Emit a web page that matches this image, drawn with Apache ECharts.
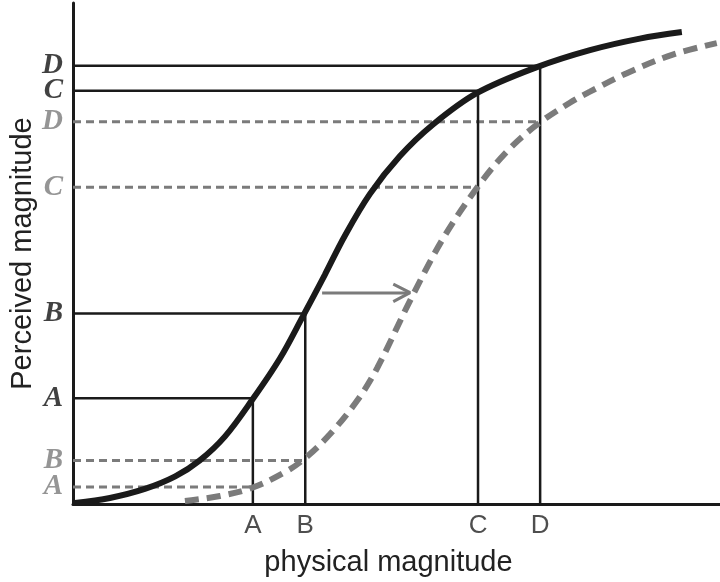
<!DOCTYPE html>
<html>
<head>
<meta charset="utf-8">
<script src="https://cdn.jsdelivr.net/npm/echarts@6/dist/echarts.min.js"></script>
<style>
    html, body { margin: 0; padding: 0; background: #fff; }
    #chart { width: 720px; height: 582px; }
</style>
</head>
<body>
<div id="chart"></div>
<script>
    //刺激名稱
    var tickNames = ['A', 'B', 'C', 'D'];
    //物理量位置
    var physicalX = [27.8, 35.9, 62.6, 72.2];
    //原曲線上的知覺量
    var perceivedSolid = [21.1, 38.0, 82.5, 87.5];
    //右移後曲線上的知覺量
    var perceivedDashed = [3.4, 8.7, 63.2, 76.3];

    //原曲線 (x, y)
    var solidCurve = [
        [0.3, 0.2], [5.7, 1.2], [11.1, 3.0], [15.8, 5.5], [19.6, 8.7],
        [23.5, 13.5], [27.7, 20.8], [32.0, 29.1], [35.5, 37.4], [38.9, 45.7],
        [42.0, 53.5], [45.9, 61.9], [50.5, 69.4], [55.6, 75.7], [62.4, 82.0],
        [71.7, 87.2], [79.9, 90.6], [87.6, 92.9], [94.1, 94.2]
    ];
    //右移後曲線 (x, y)
    var dashedCurve = [
        [17.3, 0.6], [22.7, 1.6], [27.8, 3.3], [33.1, 6.6], [36.2, 9.5],
        [39.7, 13.9], [43.9, 20.6], [47.0, 27.1], [52.1, 40.6], [57.2, 53.0],
        [62.6, 63.4], [67.1, 70.4], [71.7, 75.7], [76.8, 80.1], [79.9, 82.3],
        [85.6, 86.0], [92.7, 89.7], [99.5, 92.0]
    ];
    //箭頭
    var arrowShaft = [[38.5, 42.1], [52.0, 42.1]];
    var arrowHead = [[49.5, 43.9], [52.1, 42.2], [49.5, 40.4]];

    var black = '#1a1a1a';
    var gray = '#7b7b7b';
    var serifFont = '"Liberation Serif", "Times New Roman", serif';

    var series = [];

    //虛線參考線
    tickNames.map(function (name, i) {
        series.push({
            type: 'line',
            data: [[0, perceivedDashed[i]], [physicalX[i], perceivedDashed[i]]],
            symbol: 'none',
            z: 2,
            lineStyle: { color: gray, width: 3, type: [8, 5] }
        });
    });

    //實線參考線
    tickNames.map(function (name, i) {
        series.push({
            type: 'line',
            data: [[0, perceivedSolid[i]], [physicalX[i], perceivedSolid[i]], [physicalX[i], 0]],
            symbol: 'none',
            z: 3,
            lineStyle: { color: black, width: 2.5 }
        });
    });

    //兩條曲線
    series.push({
        type: 'line',
        data: dashedCurve,
        smooth: 0.35,
        symbol: 'none',
        z: 4,
        lineStyle: { color: gray, width: 6, type: [14, 8] }
    });
    series.push({
        type: 'line',
        data: solidCurve,
        smooth: 0.35,
        symbol: 'none',
        z: 5,
        lineStyle: { color: black, width: 6 }
    });

    //箭頭
    series.push({
        type: 'line', data: arrowShaft, symbol: 'none', z: 5,
        lineStyle: { color: gray, width: 3 }
    });
    series.push({
        type: 'line', data: arrowHead, symbol: 'none', z: 5,
        lineStyle: { color: gray, width: 3 }
    });

    //縱軸字母 (粗斜體, 用 rich)
    var yLetters = [];
    tickNames.map(function (name, i) {
        yLetters.push({ value: [0, perceivedSolid[i], name, 'k'] });
        yLetters.push({ value: [0, perceivedDashed[i], name, 'g'] });
    });
    var letterStyle = {
        fontFamily: serifFont, fontStyle: 'italic', fontWeight: 'bold', fontSize: 29
    };
    series.push({
        type: 'scatter',
        data: yLetters,
        symbolSize: 0,
        clip: false,
        z: 6,
        label: {
            show: true,
            position: 'left',
            distance: 10,
            formatter: function (p) { return '{' + p.value[3] + '|' + p.value[2] + '}'; },
            rich: {
                k: Object.assign({ color: '#111' }, letterStyle),
                g: Object.assign({ color: gray }, letterStyle)
            }
        }
    });

    //橫軸字母
    series.push({
        type: 'scatter',
        data: tickNames.map(function (name, i) { return [physicalX[i], 0, name]; }),
        symbolSize: 0,
        clip: false,
        z: 6,
        label: {
            show: true,
            position: 'bottom',
            distance: 9,
            color: '#222',
            fontFamily: 'Liberation Sans',
            fontSize: 26,
            formatter: function (p) { return p.value[2]; }
        }
    });

    var myChart = echarts.init(document.getElementById('chart'));
    var option = {
        animation: false,
        backgroundColor: '#fff',
        grid: { left: 73, right: 0, top: 3, bottom: 76 },
        xAxis: {
            type: 'value',
            min: 0,
            max: 100,
            name: 'physical magnitude',
            nameLocation: 'middle',
            nameGap: 44,
            nameTextStyle: {
                color: '#222', fontFamily: 'Liberation Sans', fontSize: 29,
                padding: [0, 16, 0, 0]
            },
            axisLine: { show: true, lineStyle: { color: black, width: 3 } },
            axisTick: { show: false },
            axisLabel: { show: false },
            splitLine: { show: false }
        },
        yAxis: {
            type: 'value',
            min: 0,
            max: 100,
            name: 'Perceived magnitude',
            nameLocation: 'middle',
            nameRotate: 90,
            nameGap: 36,
            nameTextStyle: { color: '#222', fontFamily: 'Liberation Sans', fontSize: 29 },
            axisLine: { show: true, lineStyle: { color: black, width: 3 } },
            axisTick: { show: false },
            axisLabel: { show: false },
            splitLine: { show: false }
        },
        series: series
    };
    myChart.setOption(option);
</script>
</body>
</html>
